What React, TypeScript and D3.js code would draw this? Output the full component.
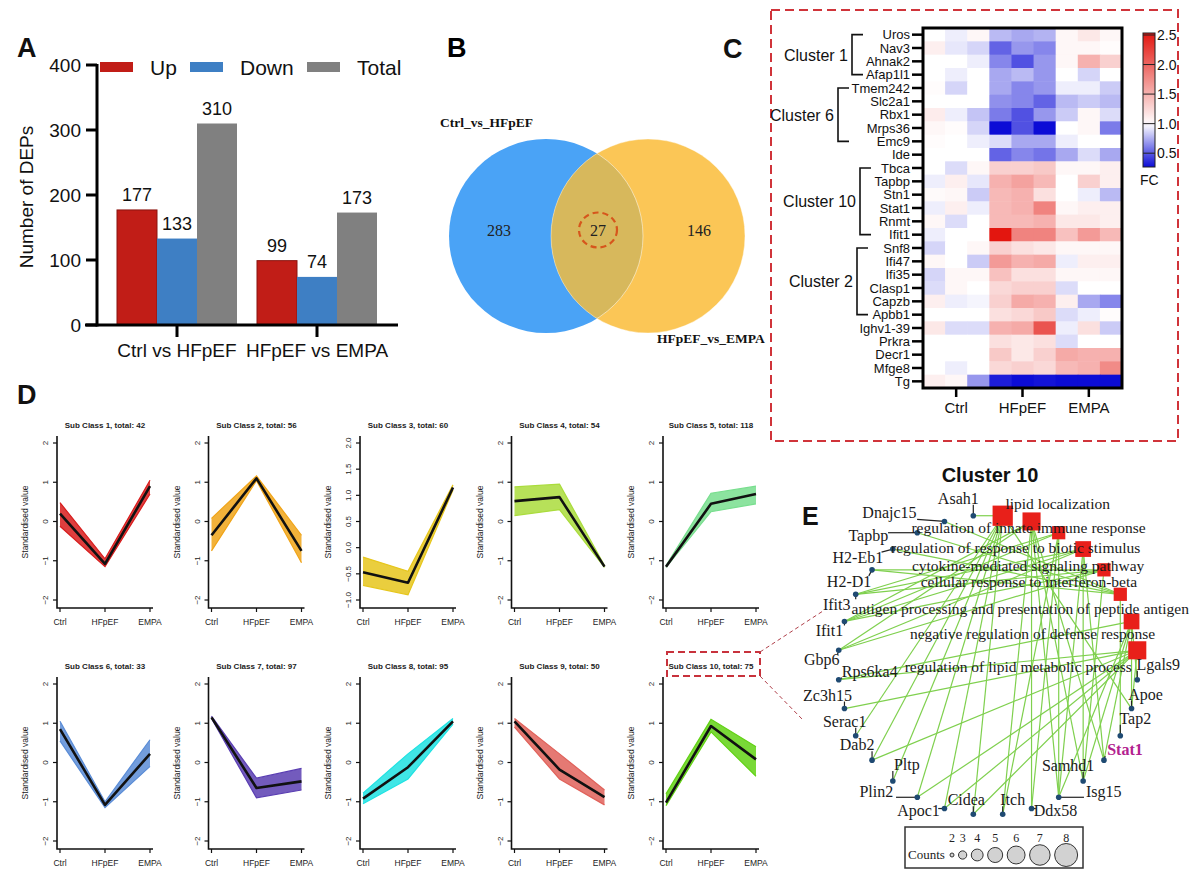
import React from "react";
import * as d3 from "d3";

const SANS = "'Liberation Sans', Arial, Helvetica, sans-serif";
const SERIF = "'Liberation Serif', 'Times New Roman', Times, serif";

// ---------- A: number of DEPs
const comparisons = ["Ctrl vs HFpEF", "HFpEF vs EMPA"];
const depKeys = ["Up", "Down", "Total"];
const depUp = [177, 99];
const depDown = [133, 74];
const depTotal = [310, 173];
const depTicks = [0, 100, 200, 300, 400];
const depColors = ["#c11d17", "#3e7fc4", "#808080"];

// ---------- B: venn
const vennNames = ["Ctrl_vs_HFpEF", "HFpEF_vs_EMPA"];
const vennCounts = [283, 27, 146];

// ---------- C: heatmap (FC, 3 replicates per group)
const heatGenes = [
  "Uros", "Nav3", "Ahnak2", "Afap1l1", "Tmem242", "Slc2a1", "Rbx1", "Mrps36", "Emc9", "Ide",
  "Tbca", "Tapbp", "Stn1", "Stat1", "Rnmt", "Ifit1", "Snf8", "Ifi47", "Ifi35", "Clasp1",
  "Capzb", "Apbb1", "Ighv1-39", "Prkra", "Decr1", "Mfge8", "Tg",
];
const heatGroups = ["Ctrl", "HFpEF", "EMPA"];
const heatFC = [
  [1.0, 0.95, 1.05, 0.8, 0.75, 0.78, 1.05, 1.15, 1.05],
  [1.1, 0.93, 0.88, 0.55, 0.7, 0.65, 1.05, 1.05, 1.02],
  [1.0, 1.0, 0.95, 0.65, 0.5, 0.7, 1.05, 1.5, 1.3],
  [1.0, 0.95, 1.0, 0.75, 0.8, 0.7, 1.0, 0.88, 1.0],
  [1.02, 0.88, 1.0, 0.75, 0.65, 0.7, 0.95, 0.95, 0.85],
  [1.0, 1.0, 1.0, 0.68, 0.65, 0.55, 0.8, 0.85, 0.8],
  [1.12, 0.95, 0.83, 0.62, 0.5, 0.7, 0.85, 1.05, 0.9],
  [1.05, 1.02, 0.88, 0.3, 0.5, 0.3, 1.0, 1.05, 0.62],
  [1.02, 1.0, 0.95, 0.9, 0.75, 0.75, 0.95, 1.0, 1.0],
  [1.0, 1.0, 1.0, 0.55, 0.65, 0.6, 0.75, 0.9, 0.75],
  [1.0, 0.9, 1.05, 1.3, 1.3, 1.35, 1.05, 1.05, 1.1],
  [0.95, 1.1, 0.93, 1.5, 1.6, 1.45, 1.0, 1.3, 1.1],
  [1.03, 1.05, 0.85, 1.45, 1.5, 1.2, 1.0, 0.95, 0.8],
  [0.95, 1.1, 0.95, 1.45, 1.5, 1.8, 1.05, 1.1, 1.1],
  [1.05, 0.9, 1.0, 1.45, 1.45, 1.5, 1.15, 1.15, 1.1],
  [0.95, 1.0, 1.0, 2.5, 1.8, 1.8, 1.4, 1.65, 1.45],
  [0.88, 1.0, 1.05, 1.3, 1.2, 1.15, 1.05, 1.05, 1.05],
  [1.05, 1.0, 0.85, 1.65, 1.5, 1.55, 0.95, 1.1, 1.1],
  [0.88, 1.05, 1.05, 1.4, 1.2, 1.2, 1.05, 1.05, 1.05],
  [0.9, 1.05, 1.0, 1.25, 1.3, 1.3, 0.9, 1.0, 1.0],
  [1.1, 0.95, 0.97, 1.3, 1.55, 1.5, 1.1, 0.75, 0.65],
  [1.0, 1.0, 1.0, 1.2, 1.25, 1.35, 0.9, 0.95, 1.02],
  [1.15, 0.9, 0.9, 1.5, 1.55, 2.1, 0.95, 1.2, 0.85],
  [1.0, 1.0, 1.0, 1.2, 1.15, 1.2, 0.9, 1.0, 1.0],
  [1.0, 1.0, 1.0, 1.35, 1.15, 1.3, 1.55, 1.5, 1.5],
  [1.0, 0.95, 1.0, 1.25, 1.3, 1.25, 1.45, 1.5, 1.75],
  [1.1, 1.05, 0.7, 0.35, 0.3, 0.32, 0.3, 0.28, 0.22],
];
const heatClusters = [
  { name: "Cluster 1", from: "Uros", to: "Afap1l1" },
  { name: "Cluster 6", from: "Tmem242", to: "Emc9" },
  { name: "Cluster 10", from: "Tbca", to: "Ifit1" },
  { name: "Cluster 2", from: "Snf8", to: "Apbb1" },
];
const fcTicks = [0.5, 1.0, 1.5, 2.0, 2.5];

// ---------- D: sub class profiles
const timePoints = ["Ctrl", "HFpEF", "EMPA"];
const subTotals = [42, 56, 60, 54, 118, 33, 97, 95, 50, 75];
const subMean = [
  [0.2, -1.08, 0.9], [-0.35, 1.1, -0.75], [-0.47, -0.67, 1.15], [0.52, 0.62, -1.15], [-1.15, 0.45, 0.7],
  [0.85, -1.08, 0.22], [1.15, -0.65, -0.48], [-0.92, -0.12, 1.05], [1.05, -0.18, -0.88], [-1.02, 0.93, 0.08],
];
const subLow = [
  [-0.12, -1.15, 0.7], [-0.75, 1.04, -1.05], [-0.72, -0.9, 1.1], [0.15, 0.3, -1.17], [-1.17, 0.25, 0.45],
  [0.55, -1.15, -0.1], [1.12, -0.9, -0.7], [-1.05, -0.42, 0.98], [0.9, -0.42, -1.08], [-1.1, 0.78, -0.35],
];
const subHigh = [
  [0.48, -0.95, 1.05], [0.08, 1.16, -0.35], [-0.18, -0.45, 1.2], [0.88, 0.95, -1.12], [-1.12, 0.72, 0.9],
  [1.05, -1.0, 0.58], [1.18, -0.4, -0.15], [-0.78, 0.22, 1.12], [1.12, 0.22, -0.7], [-0.8, 1.1, 0.4],
];
const subColors = [
  "#d81c1c", "#f0a418", "#e6c61c", "#aadc3c", "#78de8e",
  "#5a8cd6", "#5a3eb2", "#1fe2e2", "#e0625a", "#62d214",
];

// ---------- E: cluster 10 enrichment network
const goTerms = [
  "lipid localization",
  "regulation of innate immune response",
  "regulation of response to biotic stimulus",
  "cytokine-mediated signaling pathway",
  "cellular response to interferon-beta",
  "antigen processing and presentation of peptide antigen",
  "negative regulation of defense response",
  "regulation of lipid metabolic process",
];
const goGenes = [
  ["Asah1", "Pltp", "Plin2", "Apoc1", "Cidea", "Apoe", "Serac1", "Dab2"],
  ["Ifit1", "Gbp6", "Stat1", "Isg15", "Ddx58", "Itch", "Samhd1"],
  ["Ifit1", "Ifit3", "Isg15", "Ddx58", "Itch"],
  ["Ifit1", "Ifit3", "Gbp6", "Stat1", "Isg15", "Samhd1"],
  ["Ifit1", "Ifit3", "Gbp6", "H2-D1", "Samhd1"],
  ["Tapbp", "H2-Eb1", "H2-D1", "Tap2", "Dnajc15"],
  ["Lgals9", "Apoe", "Stat1", "Samhd1", "Isg15", "Rps6ka4"],
  ["Apoe", "Apoc1", "Plin2", "Zc3h15", "Dab2", "Rps6ka4", "Cidea"],
];
const geneRing = [
  "Lgals9", "Apoe", "Tap2", "Stat1", "Samhd1", "Isg15", "Ddx58", "Itch", "Cidea", "Apoc1",
  "Plin2", "Pltp", "Dab2", "Serac1", "Zc3h15", "Rps6ka4", "Gbp6", "Ifit1", "Ifit3", "H2-D1",
  "H2-Eb1", "Tapbp", "Dnajc15", "Asah1",
];
const countLegend = [2, 3, 4, 5, 6, 7, 8];

// label nudges (layout only)
const geneNudge: Record<string, [number, number]> = {
  Asah1: [-15, -17], Dnajc15: [-55, -8], Tapbp: [-49, 3], "H2-Eb1": [-35, 9], "H2-D1": [-23, 12],
  Ifit3: [-19, 11], Ifit1: [-15, 10], Gbp6: [-17, 10], Rps6ka4: [31, -8], Zc3h15: [-17, -13],
  Serac1: [-11, -14], Dab2: [-15, -15], Pltp: [14, -16], Plin2: [-41, -5], Apoc1: [-26, 2],
  Cidea: [-7, -14], Itch: [10, -14], Ddx58: [24, 2], Isg15: [45, -5], Samhd1: [-15, -15],
  Stat1: [21, -10], Tap2: [15, -17], Apoe: [14, -14], Lgals9: [21, -15],
};
const termNudge: [number, number][] = [
  [55, -12], [-3, 7], [-43, 15], [-55, 17], [-75, 12], [-100, 15], [-99, 13], [-119, 17],
];

function PanelA() {
  const y = d3.scaleLinear().domain([0, 400]).range([325, 65]);
  const x0 = d3.scaleBand().domain(comparisons).range([117, 377]).paddingInner(20 / 140);
  const x1 = d3.scaleBand().domain(depKeys).range([0, x0.bandwidth()]);
  const color = d3.scaleOrdinal<string>().domain(depKeys).range(depColors);
  const vals = [depUp, depDown, depTotal];
  return (
    <g fontFamily={SANS} fill="#111">
      <text x={17} y={57} fontSize={27} fontWeight="bold">A</text>
      {comparisons.map((c, ci) =>
        depKeys.map((k, ki) => {
          const v = vals[ki][ci];
          const bx = x0(c)! + x1(k)!;
          return (
            <g key={c + k}>
              <rect x={bx} y={y(v)} width={x1.bandwidth()} height={y(0) - y(v)} fill={color(k)}
                stroke={ki === 0 ? "#8a1410" : "none"} strokeWidth={1} />
              <text x={bx + x1.bandwidth() / 2} y={y(v) - 9} fontSize={18} textAnchor="middle">{v}</text>
            </g>
          );
        })
      )}
      <line x1={97} x2={97} y1={y(400) - 1} y2={y(0) + 1.5} stroke="#000" strokeWidth={3} />
      <line x1={85} x2={398} y1={y(0)} y2={y(0)} stroke="#000" strokeWidth={3} />
      {depTicks.map((t) => (
        <g key={t}>
          <line x1={86} x2={97} y1={y(t)} y2={y(t)} stroke="#000" strokeWidth={3} />
          <text x={81} y={y(t) + 7} fontSize={19} textAnchor="end">{t}</text>
        </g>
      ))}
      {comparisons.map((c) => (
        <g key={c}>
          <line x1={x0(c)! + x0.bandwidth() / 2} x2={x0(c)! + x0.bandwidth() / 2} y1={y(0)} y2={y(0) + 12}
            stroke="#000" strokeWidth={3} />
          <text x={x0(c)! + x0.bandwidth() / 2} y={357} fontSize={19} textAnchor="middle">{c}</text>
        </g>
      ))}
      <text transform={`translate(33,197) rotate(-90)`} fontSize={19} textAnchor="middle">Number of DEPs</text>
      {depKeys.map((k, i) => {
        const lx = [100, 190, 307][i];
        return (
          <g key={k}>
            <rect x={lx} y={62} width={33} height={10} fill={color(k)} />
            <text x={lx + 50} y={75} fontSize={21}>{k}</text>
          </g>
        );
      })}
    </g>
  );
}

function PanelB() {
  const cy = 236;
  const r = 97;
  const cxA = 546, cxB = 648;
  return (
    <g>
      <text x={447} y={57} fontSize={27} fontWeight="bold" fontFamily={SANS}>B</text>
      <defs>
        <clipPath id="vennClip">
          <circle cx={cxB} cy={cy} r={r} />
        </clipPath>
      </defs>
      <circle cx={cxA} cy={cy} r={r} fill="#4aa3f6" />
      <circle cx={cxB} cy={cy} r={r} fill="#fbc656" />
      <circle cx={cxA} cy={cy} r={r} fill="#d7b85c" clipPath="url(#vennClip)" />
      <circle cx={cxA} cy={cy} r={r} fill="none" stroke="#fff" strokeOpacity={0.5} strokeWidth={1} clipPath="url(#vennClip)" />
      <circle cx={cxB} cy={cy} r={r} fill="none" stroke="#fff" strokeOpacity={0.4} strokeWidth={1} />
      <g fontFamily={SERIF} fontSize={16} fill="#222" textAnchor="middle">
        <text x={499} y={236}>{vennCounts[0]}</text>
        <text x={598} y={236}>{vennCounts[1]}</text>
        <text x={699} y={236}>{vennCounts[2]}</text>
      </g>
      <ellipse cx={598} cy={230} rx={19} ry={17.5} fill="none" stroke="#d6561c" strokeWidth={2.2} strokeDasharray="6 4" />
      <text x={440} y={127} fontFamily={SERIF} fontSize={13.5} fontWeight="bold" fill="#111">{vennNames[0]}</text>
      <text x={657} y={343} fontFamily={SERIF} fontSize={13.5} fontWeight="bold" fill="#111">{vennNames[1]}</text>
    </g>
  );
}

function PanelC() {
  const x = d3.scaleBand<number>().domain(d3.range(9)).range([923, 1122]);
  const y = d3.scaleBand().domain(heatGenes).range([28, 388]);
  const gx = d3.scaleBand().domain(heatGroups).range([923, 1122]);
  const fc = d3.scaleLinear<string>().domain([0.3, 1, 2.5]).range(["#0c0cd6", "#ffffff", "#e3160f"]).clamp(true);
  const cb = d3.scaleLinear().domain([0.3, 2.5]).range([165, 35]);
  const stops = d3.range(0, 1.0001, 0.05).map((t) => 0.3 + t * 2.2);
  const bracketX: Record<string, number> = { "Cluster 1": 852, "Cluster 6": 838, "Cluster 10": 860, "Cluster 2": 857 };
  const rc = (g: string) => y(g)! + y.bandwidth() / 2;
  return (
    <g fontFamily={SANS} fill="#111">
      <rect x={771} y={10} width={407} height={431} fill="none" stroke="#d0343a" strokeWidth={2} strokeDasharray="9 5" />
      <text x={723} y={58} fontSize={27} fontWeight="bold">C</text>
      {heatFC.map((row, ri) =>
        row.map((v, ci) => (
          <rect key={ri + "-" + ci} x={x(ci)} y={y(heatGenes[ri])} width={x.bandwidth() + 0.5}
            height={y.bandwidth() + 0.5} fill={fc(v)} />
        ))
      )}
      <rect x={923} y={28} width={199} height={360} fill="none" stroke="#000" strokeWidth={3} />
      {heatGenes.map((g) => (
        <g key={g}>
          <line x1={912} x2={922} y1={rc(g)} y2={rc(g)} stroke="#000" strokeWidth={2.5} />
          <text x={910} y={rc(g) + 4.5} fontSize={13} textAnchor="end">{g}</text>
        </g>
      ))}
      {heatGroups.map((g) => (
        <g key={g}>
          <line x1={gx(g)! + gx.bandwidth() / 2} x2={gx(g)! + gx.bandwidth() / 2} y1={389} y2={397} stroke="#000" strokeWidth={2.5} />
          <text x={gx(g)! + gx.bandwidth() / 2} y={413} fontSize={15} textAnchor="middle">{g}</text>
        </g>
      ))}
      {heatClusters.map((c) => {
        const bx = bracketX[c.name];
        const y0 = rc(c.from), y1 = rc(c.to);
        return (
          <g key={c.name}>
            <path d={`M${bx + 11},${y0}H${bx}V${y1}H${bx + 11}`} fill="none" stroke="#111" strokeWidth={1.6} />
            <text x={bx - 4} y={(y0 + y1) / 2 + 6} fontSize={16} textAnchor="end">{c.name}</text>
          </g>
        );
      })}
      <defs>
        <linearGradient id="fcGrad" x1="0" y1="1" x2="0" y2="0">
          {stops.map((v, i) => (
            <stop key={i} offset={i / (stops.length - 1)} stopColor={fc(v)} />
          ))}
        </linearGradient>
      </defs>
      <rect x={1143} y={33} width={12} height={134} fill="url(#fcGrad)" stroke="#222" strokeWidth={1} />
      {fcTicks.map((t) => (
        <g key={t}>
          <line x1={1143} x2={1155} y1={cb(t)} y2={cb(t)} stroke="#222" strokeWidth={1} />
          <text x={1157} y={cb(t) + 5} fontSize={14}>{t.toFixed(1)}</text>
        </g>
      ))}
      <text x={1140} y={185} fontSize={14}>FC</text>
    </g>
  );
}

function SubPanel({ i }: { i: number }) {
  const ox = (i % 5) * 151.5;
  const oy = Math.floor(i / 5) * 241;
  const dom = i === 2 ? [-1, 2] : [-2, 2];
  const ticks = i === 2 ? [-1, -0.5, 0, 0.5, 1, 1.5, 2] : [-2, -1, 0, 1, 2];
  const fmt = i === 2 ? d3.format(".1f") : d3.format("d");
  const x = d3.scaleLinear().domain([0, 2]).range([60 + ox, 150 + ox]);
  const y = d3.scaleLinear().domain(dom).range([600 + oy, 443 + oy]);
  const idx = d3.range(3);
  const area = d3.area<number>().x((j) => x(j)).y0((j) => y(subLow[i][j])).y1((j) => y(subHigh[i][j]));
  const line = d3.line<number>().x((j) => x(j)).y((j) => y(subMean[i][j]));
  const edge = (arr: number[]) => d3.line<number>().x((j) => x(j)).y((j) => y(arr[j]))(idx)!;
  const left = 57 + ox, bottom = 608 + oy;
  return (
    <g fontFamily={SANS} fill="#222">
      <text x={105 + ox} y={428 + oy} fontSize={8} fontWeight="bold" textAnchor="middle">
        {`Sub Class ${i + 1}, total: ${subTotals[i]}`}
      </text>
      <path d={area(idx)!} fill={subColors[i]} fillOpacity={0.85} />
      <path d={edge(subLow[i])} fill="none" stroke={subColors[i]} strokeWidth={1.2} />
      <path d={edge(subHigh[i])} fill="none" stroke={subColors[i]} strokeWidth={1.2} />
      <path d={line(idx)!} fill="none" stroke="#111" strokeWidth={2.6} strokeLinejoin="round" />
      <path d={`M${left},${436 + oy}V${bottom}H${153 + ox}`} fill="none" stroke="#111" strokeWidth={1.6} />
      {ticks.map((t) => (
        <g key={t}>
          <line x1={left - 4} x2={left} y1={y(t)} y2={y(t)} stroke="#111" strokeWidth={1.2} />
          <text transform={`translate(${left - 9},${y(t)}) rotate(-90)`} fontSize={8} textAnchor="middle">{fmt(t)}</text>
        </g>
      ))}
      {timePoints.map((p, j) => (
        <g key={p}>
          <line x1={x(j)} x2={x(j)} y1={bottom} y2={bottom + 4} stroke="#111" strokeWidth={1.2} />
          <text x={x(j)} y={bottom + 17} fontSize={8.5} textAnchor="middle">{p}</text>
        </g>
      ))}
      <text transform={`translate(${28 + ox},${522 + oy}) rotate(-90)`} fontSize={8.5} textAnchor="middle">Standardised value</text>
    </g>
  );
}

function PanelD() {
  return (
    <g>
      <text x={17} y={404} fontSize={27} fontWeight="bold" fontFamily={SANS} fill="#111">D</text>
      {subTotals.map((_, i) => <SubPanel key={i} i={i} />)}
      <rect x={667} y={652} width={93} height={24} fill="none" stroke="#c8323c" strokeWidth={2} strokeDasharray="7 4" />
      <line x1={760} y1={652} x2={823} y2={611} stroke="#b0404a" strokeWidth={1} strokeDasharray="4 3" />
      <line x1={760} y1={676} x2={802} y2={719} stroke="#b0404a" strokeWidth={1} strokeDasharray="4 3" />
    </g>
  );
}

function PanelE() {
  const nodes = [...goTerms, ...geneRing];
  const ang = d3.scaleLinear().domain([0, nodes.length]).range([-Math.PI / 2, (3 * Math.PI) / 2]);
  const cx = 988, cy = 665, R = 150;
  const pos = new Map<string, [number, number]>();
  nodes.forEach((n, i) => {
    const a = ang(i + 0.5);
    pos.set(n, [cx + R * Math.cos(a), cy + R * Math.sin(a)]);
  });
  const size = d3.scaleSqrt().domain([2, 8]).range([4, 23]);
  const edges = goTerms.flatMap((t, ti) => goGenes[ti].map((g) => [t, g]));
  // legend circle centres
  const lx: number[] = [];
  countLegend.forEach((c, i) => {
    if (i === 0) lx.push(952);
    else lx.push(lx[i - 1] + size(countLegend[i - 1]) / 2 + size(c) / 2 + 4.5);
  });
  return (
    <g>
      <text x={990} y={482} fontFamily={SANS} fontSize={20} fontWeight="bold" textAnchor="middle" fill="#111">Cluster 10</text>
      <text x={802} y={525} fontFamily={SANS} fontSize={25} fontWeight="bold" fill="#111">E</text>
      {edges.map(([t, g], i) => {
        const a = pos.get(t)!, b = pos.get(g)!;
        return <line key={i} x1={a[0]} y1={a[1]} x2={b[0]} y2={b[1]} stroke="#7fd04e" strokeWidth={1.2} />;
      })}
      {goTerms.map((t, ti) => {
        const [px, py] = pos.get(t)!;
        const s = size(goGenes[ti].length) * 0.88;
        return <rect key={t} x={px - s / 2} y={py - s / 2} width={s} height={s} fill="#e8201a" />;
      })}
      {geneRing.map((g) => {
        const [px, py] = pos.get(g)!;
        const [dx, dy] = geneNudge[g];
        const w = g.length * 7.9;
        const lx0 = px + dx - w / 2, lx1 = px + dx + w / 2;
        const ly0 = py + dy - 6, ly1 = py + dy + 6;
        const nx = Math.max(lx0, Math.min(px, lx1));
        const ny = Math.max(ly0, Math.min(py, ly1));
        const far = Math.hypot(nx - px, ny - py) > 3;
        return (
          <g key={g}>
            {far && <line x1={px} y1={py} x2={nx} y2={ny} stroke="#222" strokeWidth={1.2} />}
            <circle cx={px} cy={py} r={2.8} fill="#1f4a72" />
            <text x={px + dx} y={py + dy + 5} fontFamily={SERIF} fontSize={16} textAnchor="middle"
              fill={g === "Stat1" ? "#b3228f" : "#1a1a1a"} fontWeight={g === "Stat1" ? "bold" : "normal"}>{g}</text>
          </g>
        );
      })}
      {goTerms.map((t, ti) => {
        const [px, py] = pos.get(t)!;
        const [dx, dy] = termNudge[ti];
        return (
          <text key={t} x={px + dx} y={py + dy + 5} fontFamily={SERIF} fontSize={15.5} textAnchor="middle" fill="#1a1a1a">{t}</text>
        );
      })}
      <rect x={905} y={827} width={178} height={41} fill="#fff" stroke="#333" strokeWidth={1.5} />
      <text x={908} y={859} fontFamily={SERIF} fontSize={13} fill="#222">Counts</text>
      {countLegend.map((c, i) => (
        <g key={c}>
          <circle cx={lx[i]} cy={855} r={size(c) / 2} fill="#d2d2d2" stroke="#333" strokeWidth={1} />
          <text x={lx[i]} y={842} fontFamily={SERIF} fontSize={12} textAnchor="middle" fill="#222">{c}</text>
        </g>
      ))}
    </g>
  );
}

export default function App() {
  return (
    <svg width={1190} height={884} viewBox="0 0 1190 884"
      style={{ position: "absolute", left: 0, top: 0, background: "#fff" }}>
      <rect width={1190} height={884} fill="#fff" />
      <PanelA />
      <PanelB />
      <PanelC />
      <PanelD />
      <PanelE />
    </svg>
  );
}
